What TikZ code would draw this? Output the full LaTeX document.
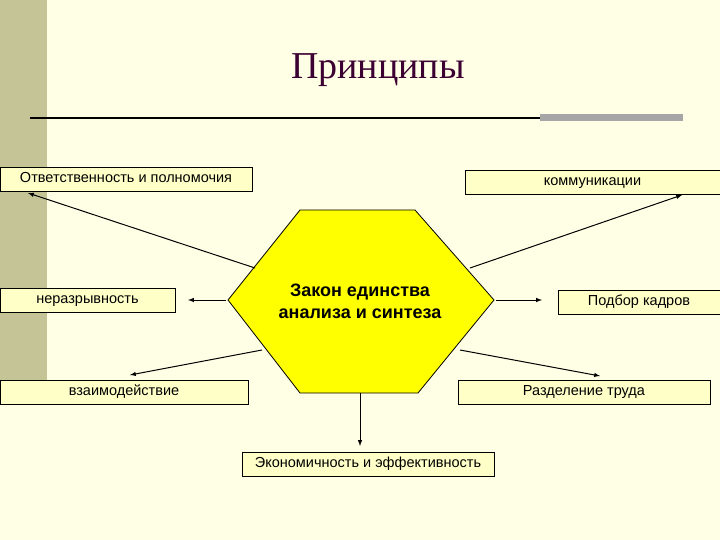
\documentclass[tikz,border=0pt]{standalone}
\usepackage{fontspec}
\setmainfont{Liberation Sans}
\newfontfamily\serifru{Liberation Serif}
\begin{document}
\begin{tikzpicture}[x=1pt,y=-1pt,
  box/.style={draw=black,fill=boxy,line width=0.8pt,inner xsep=0pt,inner ysep=5pt,text height=10.5pt,text depth=3.5pt,font=\fontsize{14.5}{16}\selectfont},
  arr/.style={-latex,line width=1pt}]
\definecolor{bgy}{RGB}{255,255,230}
\definecolor{boxy}{RGB}{255,255,200}
\definecolor{olive}{RGB}{196,196,150}
\definecolor{hexy}{RGB}{255,255,0}
\definecolor{titlec}{RGB}{60,0,50}
\useasboundingbox (0,0) rectangle (720,540);
\fill[bgy] (0,0) rectangle (720,540);
\fill[olive] (0,0) rectangle (47,380);
\node[font=\serifru\fontsize{38}{44}\selectfont,text=titlec] (title) at (378,70) {Принципы};
\coordinate (l1) at (30,118); \coordinate (l2) at (540,118); \coordinate (l3) at (683,118);
\draw[line width=1.2pt] (l1) -- (l2);
\draw[gray!70,line width=7pt] (l2) -- (l3);
\node[box,minimum width=252,minimum height=22] (b1) at (126,179) {Ответственность и полномочия};
\node[box,minimum width=255,minimum height=24] (b2) at (592.5,182) {коммуникации};
\node[box,minimum width=175,minimum height=24] (b3) at (87.5,300) {неразрывность};
\node[box,minimum width=162,minimum height=24] (b4) at (639,302) {Подбор кадров};
\node[box,minimum width=248,minimum height=24] (b5) at (124,392) {взаимодействие};
\node[box,minimum width=252,minimum height=24] (b6) at (584,392) {Разделение труда};
\node[box,minimum width=252,minimum height=24] (b7) at (368,464) {Экономичность и эффективность};
\draw[fill=hexy,line width=0.8pt] (300,210) -- (415,210) -- (494,300) -- (418,393) -- (300,393) -- (228,300) -- cycle;
\node[font=\bfseries\fontsize{18}{22}\selectfont,align=center] (hex) at (360,301) {Закон единства\\анализа и синтеза};
\coordinate (h1) at (255,268); \coordinate (t1) at (28,193);
\coordinate (h2) at (470,268); \coordinate (t2) at (682,195);
\coordinate (h3) at (226,300); \coordinate (t3) at (188,300);
\coordinate (h4) at (496,300); \coordinate (t4) at (542,300);
\coordinate (h5) at (262,350); \coordinate (t5) at (130,375);
\coordinate (h6) at (460,350); \coordinate (t6) at (600,376);
\coordinate (h7) at (360,393); \coordinate (t7) at (360,446);
\foreach \i in {1,...,7} \draw[arr] (h\i) -- (t\i);
\end{tikzpicture}
\end{document}
